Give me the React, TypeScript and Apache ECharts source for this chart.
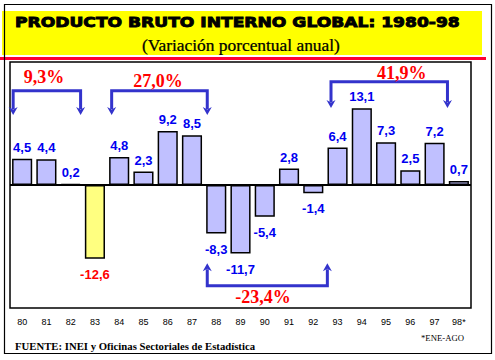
import React, { useEffect, useRef } from "react";
import * as echarts from "echarts";

// ---- data ----
const years = ["80", "81", "82", "83", "84", "85", "86", "87", "88", "89", "90", "91", "92", "93", "94", "95", "96", "97", "98*"];
const growth = [4.5, 4.4, 0.2, -12.6, 4.8, 2.3, 9.2, 8.5, -8.3, -11.7, -5.4, 2.8, -1.4, 6.4, 13.1, 7.3, 2.5, 7.2, 0.7];
const highlightYears = ["83"];

// cumulative-change brackets (x in category-index units, y in % units)
const bracketLabels = ["9,3%", "27,0%", "41,9%", "-23,4%"];
const bracketStart = [-0.37, 3.69, 12.73, 7.63];
const bracketEnd = [2.41, 7.63, 17.53, 12.58];
const bracketLevel = [16.1, 16.1, 17.64, -17.19];
const bracketTip = [11.95, 11.95, 13.13, -13.37];
const bracketTextX = [0.9, 5.6, 15.65, 9.93];
const bracketTextY = [18.5, 17.8, 19.2, -19.07];

const TITLE = "PRODUCTO BRUTO INTERNO GLOBAL: 1980-98";
const SUBTITLE = "(Variación porcentual anual)";
const SOURCE = "FUENTE: INEI y Oficinas Sectoriales de Estadística";
const NOTE = "*ENE-AGO";

const BLUE = "#0000F0";
const RED = "#FF0000";
const ARROW = "#3333CC";

function measure(text: string, font: string): number {
  const c = document.createElement("canvas").getContext("2d");
  if (!c) return 1;
  c.font = font;
  return c.measureText(text).width || 1;
}

function fitText(text: string, font: string, x: number, y: number, width: number, extra: any = {}) {
  const w = measure(text, font);
  return {
    type: "text",
    x,
    y,
    scaleX: width / w,
    style: { text, font, fill: "#000", textAlign: "left", textVerticalAlign: "middle", align: "left", verticalAlign: "middle", ...extra },
  };
}

export default function App() {
  const ref = useRef<HTMLDivElement>(null);

  useEffect(() => {
    if (!ref.current) return;
    const chart = echarts.init(ref.current, undefined, { renderer: "svg" });

    const fmt = (v: number) => v.toFixed(1).replace(".", ",");

    const barData = growth.map((v, i) => {
      const hi = highlightYears.includes(years[i]);
      return {
        value: v,
        itemStyle: hi ? { color: "#FFFF80" } : undefined,
        label: {
          position: v < 0 ? "bottom" : "top",
          distance: v < 0 ? 9 : 5,
          color: hi ? RED : BLUE,
        },
      };
    });

    const bracketData = bracketLabels.map((_, i) => [
      bracketStart[i],
      bracketEnd[i],
      bracketLevel[i],
      bracketTip[i],
      bracketTextX[i],
      bracketTextY[i],
    ]);

    const titleFont = 'bold 14px "DejaVu Sans"';
    const subFont = '16px "Liberation Serif"';
    const srcFont = 'bold 11px "Liberation Serif"';
    const noteFont = '9px "Liberation Serif"';

    const option: any = {
      animation: false,
      backgroundColor: "#fff",
      grid: {
        left: 10,
        right: 24,
        top: 62,
        bottom: 52,
        show: true,
        borderColor: "#000",
        borderWidth: 1.5,
        backgroundColor: "transparent",
      },
      xAxis: [
        {
          type: "category",
          data: years,
          position: "bottom",
          axisLine: { show: false, onZero: false },
          axisTick: { show: false },
          axisLabel: { margin: 9, fontSize: 9, color: "#000", fontFamily: '"Liberation Sans", Arial, sans-serif', interval: 0 },
          splitLine: { show: false },
        },
        {
          type: "value",
          min: -0.5,
          max: 18.5,
          show: false,
          splitLine: { show: false },
        },
      ],
      yAxis: {
        type: "value",
        min: -21,
        max: 21,
        show: false,
        splitLine: { show: false },
      },
      graphic: [
        { type: "rect", z: 0, shape: { x: 2, y: 11, width: 480, height: 44 }, style: { fill: "#FFFF00" } },
        { type: "line", z: 1, shape: { x1: 0, y1: 58.5, x2: 486, y2: 58.5 }, style: { stroke: "#FF0033", lineWidth: 3 } },
        { type: "rect", z: 2, shape: { x: 4.5, y: 4.5, width: 487, height: 349 }, style: { fill: "none", stroke: "#000", lineWidth: 1.2 } },
        { ...fitText(TITLE, titleFont, 15, 22.5, 445, { stroke: "#000", lineWidth: 0.9 }), z: 3 },
        { ...fitText(SUBTITLE, subFont, 142, 45.5, 198, { stroke: "#000", lineWidth: 0.25 }), z: 3 },
        { ...fitText(SOURCE, srcFont, 15, 345.5, 240), z: 3 },
        { ...fitText(NOTE, noteFont, 421, 337.5, 43), z: 3 },
      ],
      series: [
        {
          type: "bar",
          data: barData,
          xAxisIndex: 0,
          yAxisIndex: 0,
          barCategoryGap: "17%",
          itemStyle: { color: "#C0C0FF", borderColor: "#000", borderWidth: 1.5 },
          label: {
            show: true,
            formatter: (p: any) => fmt(p.value),
            fontFamily: '"Liberation Sans", Arial, sans-serif',
            fontWeight: "bold",
            fontSize: 13,
          },
          markLine: {
            silent: true,
            symbol: "none",
            label: { show: false },
            lineStyle: { color: "#000", width: 2, type: "solid" },
            data: [{ yAxis: 0 }],
          },
          z: 3,
        },
        {
          type: "custom",
          xAxisIndex: 1,
          yAxisIndex: 0,
          clip: false,
          silent: true,
          z: 4,
          encode: { x: 0, y: 2 },
          data: bracketData,
          renderItem: (params: any, api: any) => {
            const i = params.dataIndex;
            const x1 = api.value(0);
            const x2 = api.value(1);
            const lv = api.value(2);
            const tip = api.value(3);
            const tx = api.value(4);
            const ty = api.value(5);
            const p1 = api.coord([x1, lv]);
            const p2 = api.coord([x2, lv]);
            const t1 = api.coord([x1, tip]);
            const t2 = api.coord([x2, tip]);
            const tp = api.coord([tx, ty]);
            const dir = t1[1] > p1[1] ? 1 : -1;
            const ah = 8;
            const aw = 4.5;
            const head = (t: number[]) => ({
              type: "polygon",
              shape: {
                points: [
                  [t[0] - aw, t[1] - dir * ah],
                  [t[0], t[1] - dir * (ah - 2.5)],
                  [t[0] + aw, t[1] - dir * ah],
                  [t[0], t[1]],
                ],
              },
              style: { fill: ARROW },
            });
            return {
              type: "group",
              children: [
                {
                  type: "polyline",
                  shape: {
                    points: [
                      [t1[0], t1[1] - dir * 6],
                      [p1[0], p1[1]],
                      [p2[0], p2[1]],
                      [t2[0], t2[1] - dir * 6],
                    ],
                  },
                  style: { stroke: ARROW, lineWidth: 3, fill: "none", lineJoin: "miter" },
                },
                head(t1),
                head(t2),
                {
                  type: "text",
                  x: tp[0],
                  y: tp[1],
                  style: {
                    text: bracketLabels[i],
                    fill: RED,
                    font: 'bold 18px "Liberation Serif", "Times New Roman", serif',
                    textAlign: "center",
                    textVerticalAlign: "middle",
                    align: "center",
                    verticalAlign: "middle",
                  },
                },
              ],
            };
          },
        },
      ],
    };

    chart.setOption(option);
    return () => chart.dispose();
  }, []);

  return <div ref={ref} style={{ position: "absolute", left: 0, top: 0, width: 495, height: 360 }} />;
}
